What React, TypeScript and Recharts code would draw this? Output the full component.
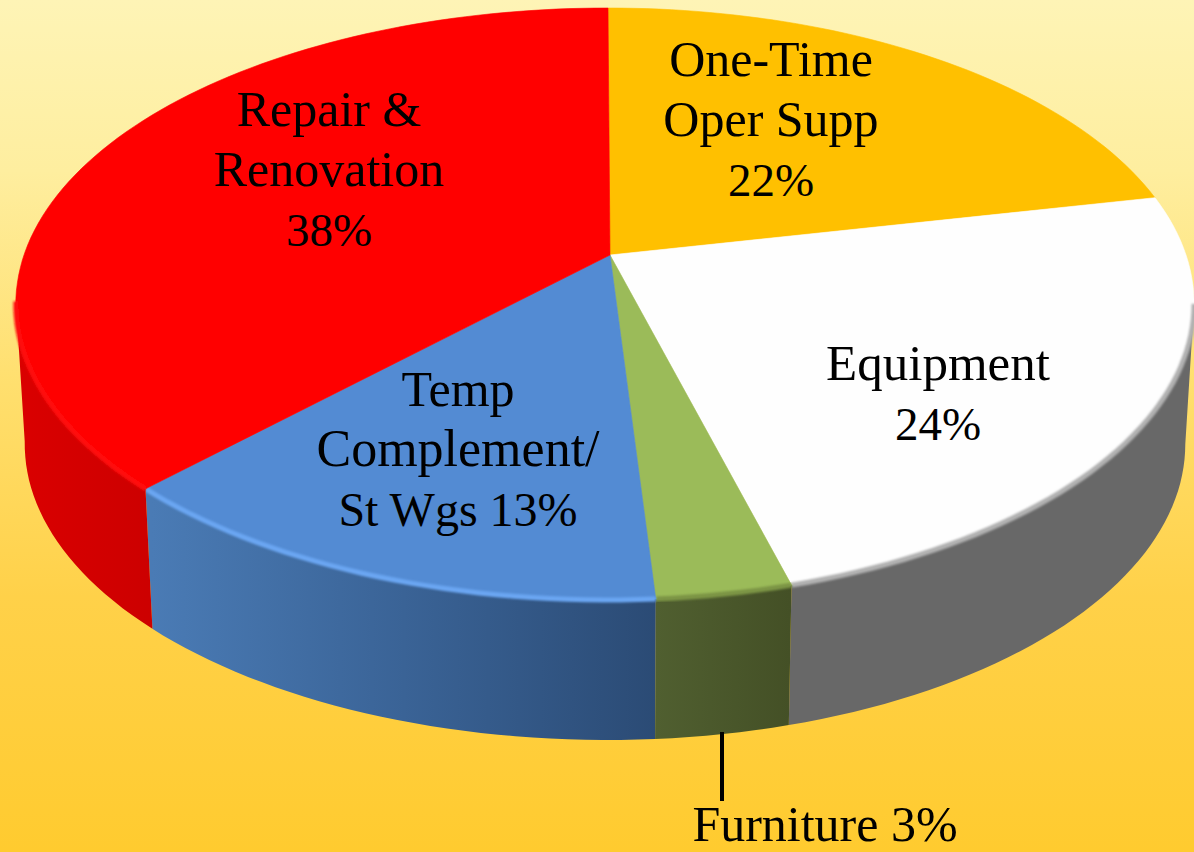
import { PieChart, Pie } from "recharts";

const categories = ["One-Time Oper Supp", "Equipment", "Furniture", "Temp Complement/St Wgs", "Repair & Renovation"];
const shares = [21.7, 24.0, 3.2, 13.4, 37.7];

const labelLines = [
  ["One-Time", "Oper Supp", "22%"],
  ["Equipment", "24%"],
  ["Furniture 3%"],
  ["Temp", "Complement/", "St Wgs 13%"],
  ["Repair &", "Renovation", "38%"],
];
const labelSizes = [
  [50, 50, 47],
  [51, 47],
  [50],
  [50, 52, 48],
  [50, 50, 47],
];

const topColors = ["#FFC000", "#FEFEFE", "#9BBB59", "#538BD3", "#FF0000"];
const wallFills = ["#B38600", "#686868", "url(#wallGreen)", "url(#wallBlue)", "url(#wallRed)"];
const rimColors = ["#FFC000", "#B0B0B0", "#7C9445", "#6AA6F2", "#FF1010"];

const labelAnchors = [
  { x: 771, y: 76 },
  { x: 938, y: 380 },
  { x: 825, y: 841 },
  { x: 458, y: 406 },
  { x: 329, y: 126 },
];
const lineGap = 60;

const data = categories.map((name, i) => ({ name, value: shares[i] }));

// the 3d look: circle angle -> perspective point on the tilted disc
const APEX_X = 608;
const APEX_Y = 255;
const TILT = -0.1655;
const DEPTH = 140;

function project(deg: number, bottom = false) {
  const rad = (deg * Math.PI) / 180;
  const u = Math.cos(rad);
  const v = -Math.sin(rad);
  const w = 1 + TILT * v;
  const a = u > 0 ? 578 : 584;
  const s = bottom ? 0.985 : 1;
  return {
    x: APEX_X + (s * a * u) / w,
    y: APEX_Y + (bottom ? DEPTH : 0) + (287.9 * v) / w,
  };
}

function arcPoints(from: number, to: number, bottom = false) {
  const steps = Math.max(2, Math.ceil(Math.abs(from - to) / 1.5));
  const pts = [];
  for (let i = 0; i <= steps; i++) {
    const p = project(from + ((to - from) * i) / steps, bottom);
    pts.push(`${p.x.toFixed(1)},${p.y.toFixed(1)}`);
  }
  return pts;
}

function Slice3D(props: any) {
  const { startAngle, endAngle, index } = props;
  // only the front of the disc shows its wall
  const wallFrom = Math.min(startAngle, -9.5);
  const wallTo = Math.max(endAngle, -171);
  const hasWall = wallFrom > wallTo;
  return (
    <g>
      {hasWall && (
        <path
          d={`M${arcPoints(wallFrom, wallTo).join("L")}L${arcPoints(wallTo, wallFrom, true).join("L")}Z`}
          fill={wallFills[index]}
        />
      )}
      <path
        d={`M${APEX_X + 2},${APEX_Y}L${arcPoints(startAngle, endAngle).join("L")}Z`}
        fill={topColors[index]}
        stroke={topColors[index]}
        strokeWidth={0.6}
      />
      {hasWall && (
        <path
          d={`M${arcPoints(wallFrom, wallTo).join("L")}`}
          fill="none"
          stroke={rimColors[index]}
          strokeWidth={5}
          filter="url(#rimBlur)"
        />
      )}
    </g>
  );
}

function SliceLabel(props: any) {
  const { index } = props;
  const at = labelAnchors[index];
  return (
    <g>
      {index === 2 && <line x1={722} y1={732} x2={722} y2={801} stroke="#000" strokeWidth={4} />}
      <text x={at.x} y={at.y} textAnchor="middle" fontFamily="'Liberation Serif', serif" fill="#000">
        {labelLines[index].map((line, i) => (
          <tspan key={line} x={at.x} dy={i === 0 ? 0 : lineGap} fontSize={labelSizes[index][i]}>
            {line}
          </tspan>
        ))}
      </text>
    </g>
  );
}

export default function App() {
  return (
    <div
      style={{
        position: "absolute",
        left: 0,
        top: 0,
        width: 1194,
        height: 852,
        overflow: "hidden",
        background: "linear-gradient(180deg, #FEF4B6 0%, #FEEE9F 20%, #FFDF6E 45%, #FFD149 70%, #FFCB2F 100%)",
      }}
    >
      <PieChart width={1194} height={852} margin={{ top: 0, right: 0, bottom: 0, left: 0 }}>
        <defs>
          <filter id="rimBlur" x="-5%" y="-20%" width="110%" height="140%">
            <feGaussianBlur stdDeviation="1.2" />
          </filter>
          <linearGradient id="wallRed" gradientUnits="userSpaceOnUse" x1="20" y1="0" x2="157" y2="0">
            <stop offset="0" stopColor="#DA0000" />
            <stop offset="1" stopColor="#CC0000" />
          </linearGradient>
          <linearGradient id="wallBlue" gradientUnits="userSpaceOnUse" x1="152" y1="0" x2="656" y2="0">
            <stop offset="0" stopColor="#4A7BB5" />
            <stop offset="0.5" stopColor="#3A6396" />
            <stop offset="1" stopColor="#2B4B75" />
          </linearGradient>
          <linearGradient id="wallGreen" gradientUnits="userSpaceOnUse" x1="656" y1="0" x2="790" y2="0">
            <stop offset="0" stopColor="#505F30" />
            <stop offset="1" stopColor="#445026" />
          </linearGradient>
        </defs>
        <Pie
          data={data}
          dataKey="value"
          nameKey="name"
          cx={608}
          cy={255}
          outerRadius={287}
          startAngle={90}
          endAngle={-270}
          paddingAngle={0}
          stroke="none"
          shape={Slice3D}
          label={SliceLabel}
          labelLine={false}
          isAnimationActive={false}
        />
      </PieChart>
    </div>
  );
}
